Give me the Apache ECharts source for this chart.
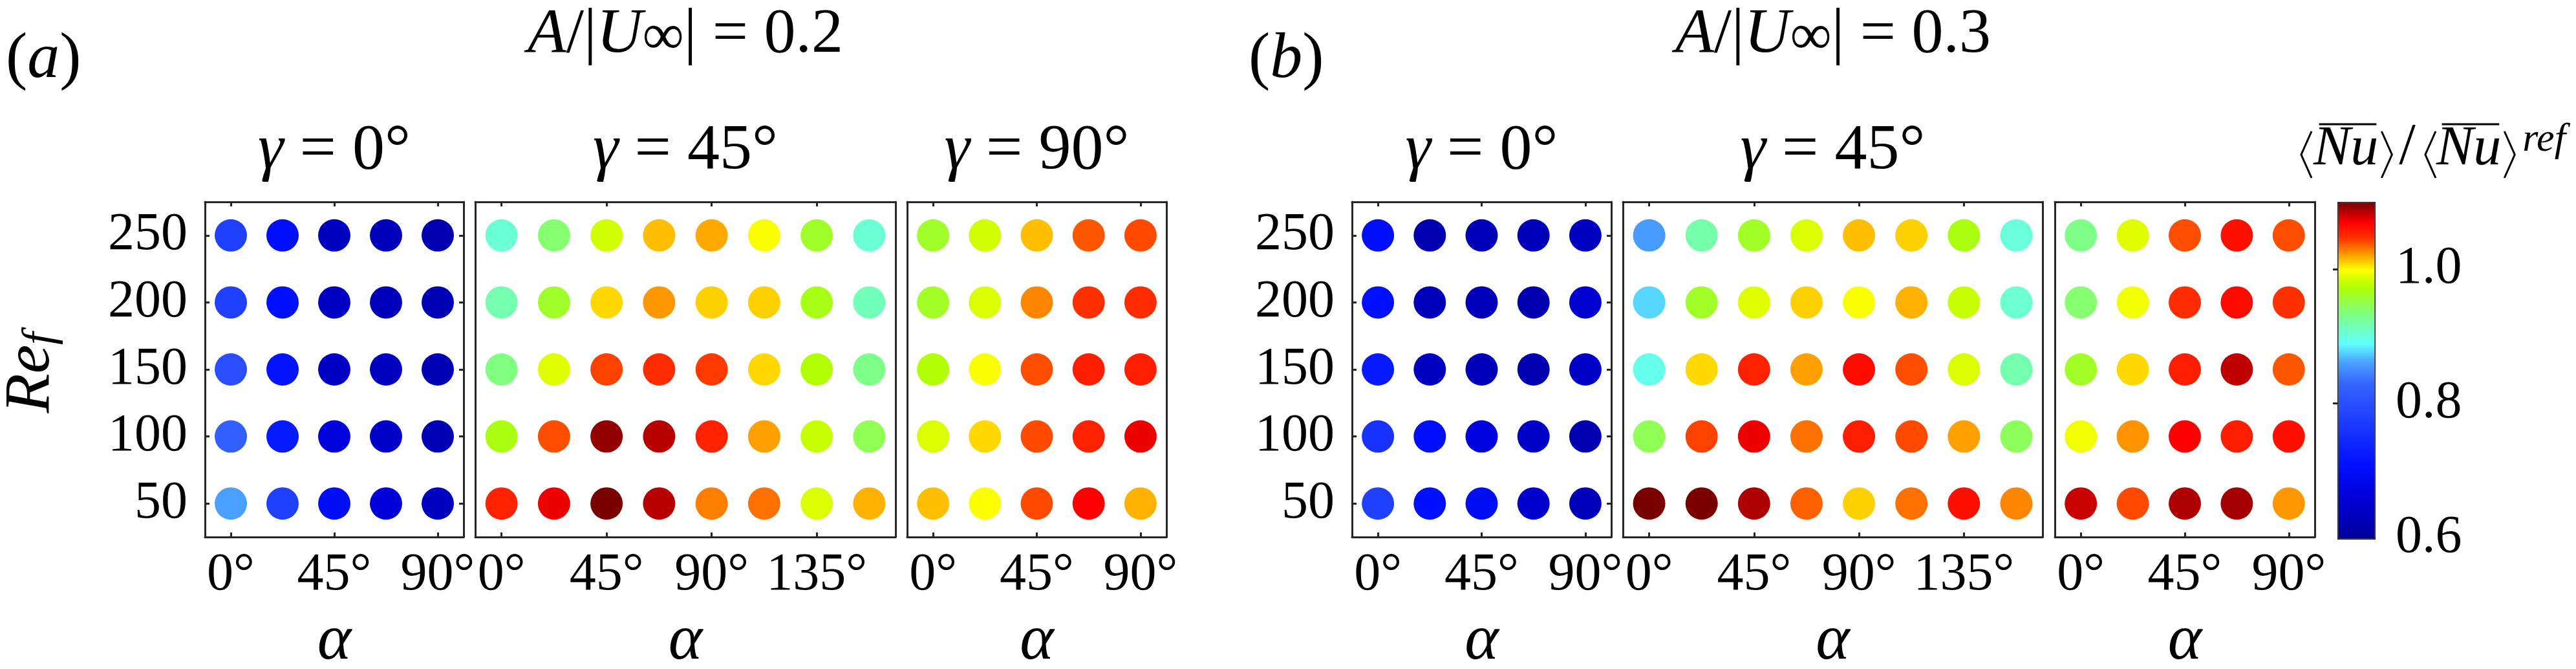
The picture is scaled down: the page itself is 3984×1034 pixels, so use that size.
<!DOCTYPE html>
<html>
<head>
<meta charset="utf-8">
<script src="https://cdn.jsdelivr.net/npm/echarts@6/dist/echarts.min.js"></script>
<style>
  html, body { margin: 0; padding: 0; background: #fff; }
  #chart { width: 3984px; height: 1034px; }
</style>
</head>
<body>
<div id="chart"></div>
<script>
// 横轴 alpha（度），纵轴 Re_f
const alphaShort = [0, 22.5, 45, 67.5, 90]
const alphaLong = [0, 22.5, 45, 67.5, 90, 112.5, 135, 157.5]
const reValues = [50, 100, 150, 200, 250]
const reTicks = [50, 100, 150, 200, 250]
const alphaTicksShort = [0, 45, 90]
const alphaTicksLong = [0, 45, 90, 135]
const cbTicks = [0.6, 0.8, 1.0]

// <Nu>/<Nu>^ref，每行对应 Re = 50..250，每列对应 alpha
const nu02g0 = [
  [0.862, 0.780, 0.700, 0.660, 0.635],
  [0.825, 0.725, 0.665, 0.645, 0.625],
  [0.800, 0.715, 0.640, 0.635, 0.625],
  [0.780, 0.710, 0.640, 0.630, 0.625],
  [0.780, 0.705, 0.635, 0.630, 0.620]
]
const nu02g45 = [
  [1.055, 1.074, 1.100, 1.087, 1.030, 1.033, 0.988, 1.018],
  [0.970, 1.041, 1.095, 1.087, 1.055, 1.022, 0.982, 0.948],
  [0.935, 0.990, 1.044, 1.050, 1.046, 1.009, 0.975, 0.932],
  [0.918, 0.962, 1.009, 1.024, 1.011, 1.011, 0.968, 0.915],
  [0.905, 0.940, 0.985, 1.015, 1.020, 0.998, 0.962, 0.905]
]
const nu02g90 = [
  [1.015, 0.999, 1.042, 1.070, 1.018],
  [0.988, 1.009, 1.042, 1.055, 1.074],
  [0.975, 0.998, 1.041, 1.056, 1.056],
  [0.963, 0.988, 1.028, 1.048, 1.050],
  [0.962, 0.985, 1.015, 1.039, 1.042]
]
const nu03g0 = [
  [0.780, 0.710, 0.700, 0.650, 0.628],
  [0.760, 0.705, 0.670, 0.645, 0.620],
  [0.725, 0.636, 0.628, 0.620, 0.644],
  [0.710, 0.628, 0.628, 0.620, 0.652],
  [0.705, 0.620, 0.628, 0.628, 0.636]
]
const nu03g45 = [
  [1.100, 1.100, 1.089, 1.037, 1.011, 1.033, 1.063, 1.028],
  [0.948, 1.044, 1.074, 1.033, 1.056, 1.042, 1.022, 0.946],
  [0.897, 1.009, 1.055, 1.022, 1.066, 1.041, 0.988, 0.918],
  [0.878, 0.963, 0.990, 1.011, 0.998, 1.018, 0.982, 0.907],
  [0.860, 0.920, 0.963, 0.988, 1.015, 1.011, 0.970, 0.903]
]
const nu03g90 = [
  [1.083, 1.042, 1.089, 1.091, 1.024],
  [0.996, 1.025, 1.070, 1.056, 1.063],
  [0.963, 1.009, 1.056, 1.085, 1.039],
  [0.940, 0.996, 1.050, 1.066, 1.048],
  [0.932, 0.990, 1.041, 1.063, 1.041]
]

// 色标（类 jet，非均匀）
const cmapStops = [
  [0.600, '#00009c'], [0.660, '#0000d8'], [0.710, '#0010ff'], [0.780, '#2040ff'],
  [0.830, '#3564ff'], [0.862, '#4aa0ff'], [0.890, '#60ffff'], [0.935, '#80ff80'],
  [0.975, '#b0ff00'], [1.000, '#ffff00'], [1.022, '#ffa000'], [1.048, '#ff3000'],
  [1.070, '#ff0000'], [1.085, '#c00000'], [1.100, '#7a0000']
]
function hex2rgb (h) { return [1, 3, 5].map(k => parseInt(h.substr(k, 2), 16)) }
function cmapAt (v) {
  for (let k = 1; k < cmapStops.length; k++) {
    if (v <= cmapStops[k][0] + 1e-9) {
      const [v0, c0] = cmapStops[k - 1]
      const [v1, c1] = cmapStops[k]
      const t = (v - v0) / (v1 - v0)
      const a = hex2rgb(c0), b = hex2rgb(c1)
      return 'rgb(' + a.map((x, j) => Math.round(x + (b[j] - x) * t)).join(',') + ')'
    }
  }
  return cmapStops[cmapStops.length - 1][1]
}
const cmapColors = []
for (let k = 0; k <= 250; k++) cmapColors.push(cmapAt(0.6 + 0.5 * k / 250))

const FONT = '"Liberation Serif", "Times New Roman", serif'
const AXIS_COLOR = '#262626'
const TOP = 312
const HEIGHT = 518

const boxes = [
  { left: 317, width: 400, alpha: alphaShort, ticks: alphaTicksShort, vals: nu02g0, yLabels: true, title: '0°' },
  { left: 735, width: 650, alpha: alphaLong, ticks: alphaTicksLong, vals: nu02g45, title: '45°' },
  { left: 1403, width: 401, alpha: alphaShort, ticks: alphaTicksShort, vals: nu02g90, title: '90°' },
  { left: 2091, width: 401, alpha: alphaShort, ticks: alphaTicksShort, vals: nu03g0, yLabels: true, title: '0°' },
  { left: 2510, width: 649, alpha: alphaLong, ticks: alphaTicksLong, vals: nu03g45, title: '45°' },
  { left: 3178, width: 402, alpha: alphaShort, ticks: alphaTicksShort, vals: nu03g90, title: null }
]

const lineStyle = { color: AXIS_COLOR, width: 3 }
const grid = []
const xAxis = []
const yAxis = []
const series = []
const graphic = []

boxes.forEach((b, i) => {
  grid.push({ left: b.left, top: TOP, width: b.width, height: HEIGHT, containLabel: false, outerBoundsMode: 'none' })
  const xmin = -11.25
  const xmax = b.alpha[b.alpha.length - 1] + 11.25
  xAxis.push({
    gridIndex: i, type: 'value', position: 'bottom', min: xmin, max: xmax,
    axisLine: { show: true, onZero: false, lineStyle },
    axisTick: { show: true, inside: true, length: 7, lineStyle, customValues: b.ticks },
    axisLabel: { show: true, customValues: b.ticks, formatter: v => v + '°', fontFamily: FONT, fontSize: 82, color: '#000', margin: 18 },
    splitLine: { show: false },
    name: 'α', nameLocation: 'middle', nameGap: 112,
    nameTextStyle: { fontFamily: FONT, fontStyle: 'italic', fontSize: 100, color: '#000' }
  })
  xAxis.push({
    gridIndex: i, type: 'value', position: 'top', min: xmin, max: xmax,
    axisLine: { show: true, onZero: false, lineStyle },
    axisTick: { show: true, inside: true, length: 7, lineStyle, customValues: b.ticks },
    axisLabel: { show: false },
    splitLine: { show: false }
  })
  yAxis.push({
    gridIndex: i, type: 'value', position: 'left', min: 25, max: 275,
    axisLine: { show: true, onZero: false, lineStyle },
    axisTick: { show: !!b.yLabels, inside: true, length: 7, lineStyle, customValues: reTicks },
    axisLabel: { show: !!b.yLabels, customValues: reTicks, fontFamily: FONT, fontSize: 82, color: '#000', margin: 27 },
    splitLine: { show: false }
  })
  yAxis.push({
    gridIndex: i, type: 'value', position: 'right', min: 25, max: 275,
    axisLine: { show: true, onZero: false, lineStyle },
    axisTick: { show: !!b.yLabels, inside: true, length: 7, lineStyle, customValues: reTicks },
    axisLabel: { show: false },
    splitLine: { show: false }
  })
  const data = []
  reValues.forEach((re, r) => {
    b.alpha.forEach((a, c) => { data.push([a, re, b.vals[r][c]]) })
  })
  series.push({
    type: 'scatter', xAxisIndex: 2 * i, yAxisIndex: 2 * i,
    symbol: 'circle', symbolSize: 50, silent: true,
    itemStyle: { opacity: 1 },
    data
  })
  if (b.title) {
    graphic.push({
      type: 'text', x: b.left + b.width / 2, y: 234,
      style: {
        text: '{g|γ}{n| = ' + b.title + '}',
        align: 'center', verticalAlign: 'middle', fill: '#000',
        rich: {
          g: { fontFamily: FONT, fontStyle: 'italic', fontSize: 100, lineHeight: 100, fill: '#000' },
          n: { fontFamily: FONT, fontSize: 100, lineHeight: 100, fill: '#000' }
        }
      }
    })
  }
})

// 纵轴名 Re_f（竖排）
graphic.push({
  type: 'text', x: 49, y: 576, rotation: Math.PI / 2,
  style: {
    text: '{re|Re}{f|f}',
    align: 'center', verticalAlign: 'middle', fill: '#000',
    rich: {
      re: { fontFamily: FONT, fontStyle: 'italic', fontSize: 100, lineHeight: 100, fill: '#000' },
      f: { fontFamily: FONT, fontStyle: 'italic', fontSize: 70, lineHeight: 40, verticalAlign: 'bottom', fill: '#000' }
    }
  }
})

// 色标的刻度轴
grid.push({ left: 3615, top: TOP, width: 56, height: 519, containLabel: false, outerBoundsMode: 'none' })
xAxis.push({ gridIndex: 6, type: 'value', show: false })
yAxis.push({
  gridIndex: 6, type: 'value', position: 'right', min: 0.6, max: 1.1, z: 10,
  axisLine: { show: false },
  axisTick: { show: true, inside: true, length: 7, lineStyle, customValues: [0.8, 1.0] },
  axisLabel: { show: true, customValues: cbTicks, formatter: v => v.toFixed(1), fontFamily: FONT, fontSize: 82, color: '#000', margin: 34 },
  splitLine: { show: false }
})

const richMain = {
  it: { fontFamily: FONT, fontStyle: 'italic', fontSize: 98, lineHeight: 100, fill: '#000' },
  n: { fontFamily: FONT, fontSize: 98, lineHeight: 100, fill: '#000' },
  sub: { fontFamily: FONT, fontSize: 90, lineHeight: 48, verticalAlign: 'bottom', fill: '#000' }
}
const ampTitles = [['0.2', 1060], ['0.3', 2835]]
ampTitles.forEach(([v, x]) => {
  graphic.push({
    type: 'text', x, y: 54,
    style: {
      text: '{it|A}{n|/|}{it|U}{sub|∞}{n|| = ' + v + '}',
      align: 'center', verticalAlign: 'middle', fill: '#000', rich: richMain
    }
  })
})
const panelLabels = [['a', 9], ['b', 1931]]
panelLabels.forEach(([t, x]) => {
  graphic.push({
    type: 'text', x, y: 93,
    style: {
      text: '{n|(}{it|' + t + '}{n|)}',
      align: 'left', verticalAlign: 'middle', fill: '#000',
      rich: {
        it: { fontFamily: FONT, fontStyle: 'italic', fontSize: 100, lineHeight: 100, fill: '#000' },
        n: { fontFamily: FONT, fontSize: 100, lineHeight: 100, fill: '#000' }
      }
    }
  })
})

// 色标标题 <Nu>/<Nu>^ref：尖括号和上划线用线段画
const measureCtx = document.createElement('canvas').getContext('2d')
function textWidth (style, size, s) {
  measureCtx.font = style + ' ' + size + 'px ' + FONT
  return measureCtx.measureText(s).width
}
const CB_BASE = 260
const BR_TOP = 203
const BR_BOT = 275
const cbTitle = [
  { br: 'open', w: 17, gap: 3 },
  { t: 'Nu', st: 'italic', fs: 86, bar: true, gap: 4 },
  { br: 'close', w: 17, gap: 11 },
  { t: '/', st: 'normal', fs: 92, gap: 14 },
  { br: 'open', w: 17, gap: 1 },
  { t: 'Nu', st: 'italic', fs: 86, bar: true, gap: 4 },
  { br: 'close', w: 17, gap: 12 },
  { t: 'ref', st: 'italic', fs: 62, gap: 0, dy: -22 }
]
let cx = 3558
cbTitle.forEach(p => {
  if (p.br) {
    const xa = p.br === 'open' ? cx + p.w : cx + 1
    const xb = p.br === 'open' ? cx + 1 : cx + p.w
    graphic.push({
      type: 'polyline',
      shape: { points: [[xa, BR_TOP], [xb, (BR_TOP + BR_BOT) / 2], [xa, BR_BOT]] },
      style: { stroke: '#000', lineWidth: 3, fill: null }
    })
    cx += p.w + p.gap
    return
  }
  const w = textWidth(p.st, p.fs, p.t)
  const base = CB_BASE + (p.dy || 0)
  graphic.push({
    type: 'text', x: cx, y: base - 0.3375 * p.fs,
    style: { text: p.t, fontFamily: FONT, fontStyle: p.st, fontSize: p.fs, fill: '#000', align: 'left', verticalAlign: 'middle' }
  })
  if (p.bar) {
    graphic.push({
      type: 'line',
      shape: { x1: cx + 0.1 * p.fs, y1: 192, x2: cx + w - 3, y2: 192 },
      style: { stroke: '#000', lineWidth: 3 }
    })
  }
  cx += w + p.gap
})

const myChart = echarts.init(document.getElementById('chart'))
myChart.setOption({
  backgroundColor: '#fff',
  animation: false,
  grid,
  xAxis,
  yAxis,
  visualMap: {
    type: 'continuous', min: 0.6, max: 1.1, dimension: 2,
    seriesIndex: [0, 1, 2, 3, 4, 5],
    inRange: { color: cmapColors },
    calculable: false, hoverLink: false,
    left: 3615, top: TOP, itemWidth: 56, itemHeight: 519,
    padding: 0, borderColor: AXIS_COLOR, borderWidth: 3
  },
  series,
  graphic
})
</script>
</body>
</html>
